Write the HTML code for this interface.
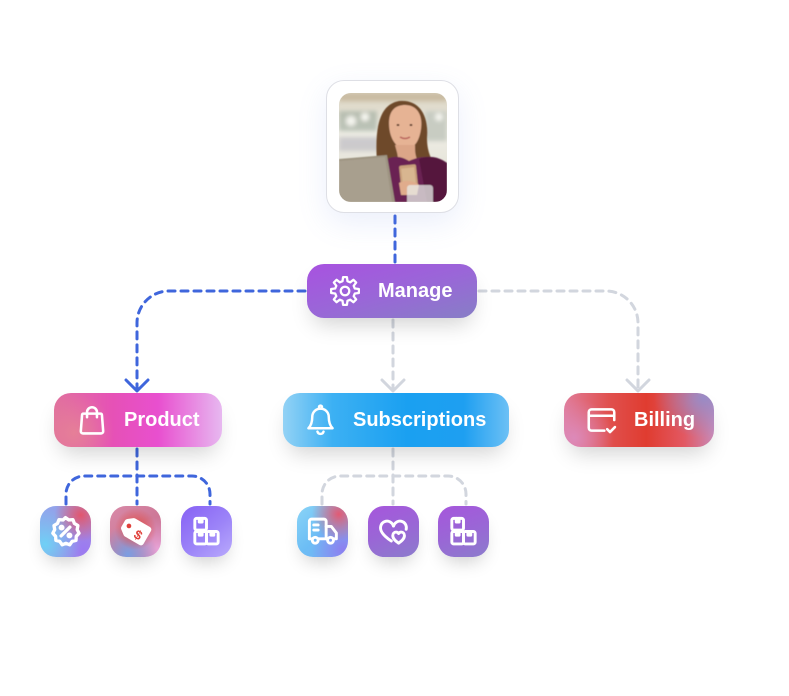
<!DOCTYPE html>
<html><head><meta charset="utf-8">
<style>
html,body{margin:0;padding:0;background:#fff;}
body{width:789px;height:696px;position:relative;overflow:hidden;font-family:"Liberation Sans",sans-serif;}
.abs{position:absolute;}
.node{position:absolute;height:54px;border-radius:17px;box-shadow:0 12px 22px -6px rgba(0,0,0,0.18);}
.lbl{position:absolute;color:#fff;font-weight:700;font-size:20px;line-height:54px;white-space:nowrap;}
.ib{position:absolute;width:51px;height:51px;border-radius:16px;box-shadow:0 10px 18px -6px rgba(0,0,0,0.2);top:506px;}
.ib svg{position:absolute;left:8px;top:8px;width:35px;height:35px;}
</style></head><body>

<!-- connectors -->
<svg class="abs" style="left:0;top:0" width="789" height="696" viewBox="0 0 789 696">
<g fill="none" stroke-width="3" stroke-linecap="round" stroke-dasharray="7 6">
  <path d="M395 216 V263" stroke="#3f66dc"/>
  <path d="M305 291 H169 A32 32 0 0 0 137 323 V388" stroke="#3f66dc"/>
  <path d="M393 320 V388" stroke="#d2d6de"/>
  <path d="M479 291 H606 A32 32 0 0 1 638 323 V388" stroke="#d2d6de"/>
  <path d="M137 449 V504" stroke="#3f66dc"/>
  <path d="M66 504 V494 A18 18 0 0 1 84 476 H192 A18 18 0 0 1 210 494 V504" stroke="#3f66dc"/>
  <path d="M393 449 V504" stroke="#d2d6de"/>
  <path d="M322 504 V494 A18 18 0 0 1 340 476 H448 A18 18 0 0 1 466 494 V504" stroke="#d2d6de"/>
</g>
<g fill="none" stroke-width="3" stroke-linecap="round" stroke-linejoin="round">
  <path d="M126 380 L137 391 L148 380" stroke="#3f66dc"/>
  <path d="M382 380 L393 391 L404 380" stroke="#d2d6de"/>
  <path d="M627 380 L638 391 L649 380" stroke="#d2d6de"/>
</g>
</svg>

<!-- photo card -->
<div class="abs" style="left:326px;top:80px;width:131px;height:131px;border:1.5px solid #dedfe5;border-radius:18px;background:#fff;box-shadow:0 10px 30px rgba(110,140,230,0.14);"></div>
<svg class="abs" style="left:339px;top:93px;" width="108" height="109" viewBox="0 0 108 109">
<defs>
<clipPath id="pc"><rect x="0" y="0" width="108" height="109" rx="12"/></clipPath>
<linearGradient id="bgp" x1="0" y1="0" x2="0" y2="1"><stop offset="0" stop-color="#d9d2c0"/><stop offset="0.35" stop-color="#eeede4"/><stop offset="0.7" stop-color="#e6e4da"/><stop offset="1" stop-color="#cfc9bb"/></linearGradient>
<filter id="bl"><feGaussianBlur stdDeviation="2"/></filter>
<filter id="bl1"><feGaussianBlur stdDeviation="0.6"/></filter>
</defs>
<g clip-path="url(#pc)">
<rect width="108" height="109" fill="url(#bgp)"/>
<g filter="url(#bl)">
<rect x="0" y="0" width="108" height="8" fill="#c9bca2"/>
<rect x="0" y="18" width="38" height="20" fill="#9aa69a" opacity="0.6"/>
<circle cx="12" cy="28" r="5" fill="#f4f4ee"/>
<circle cx="26" cy="24" r="4" fill="#f8f8f2"/>
<rect x="0" y="44" width="40" height="14" fill="#b8b6c0" opacity="0.6"/>
<rect x="86" y="18" width="22" height="30" fill="#c8ccc2"/>
<circle cx="100" cy="24" r="4" fill="#f4f4ee"/>
</g>
<g filter="url(#bl1)">
<path d="M38 70 C36 40 38 12 60 8 C80 6 90 22 88 45 C88 58 92 66 96 72 L60 80 Z" fill="#6e4a2c"/>
<path d="M50 30 C50 16 58 12 66 12 C78 12 84 22 82 36 C80 50 74 56 66 56 C58 56 50 46 50 30 Z" fill="#e6b394"/>
<path d="M56 52 C58 60 60 64 58 70 L80 70 C76 64 76 58 76 52 Z" fill="#dca688"/>
<path d="M48 66 C56 62 64 64 70 68 C78 64 90 62 100 66 L108 70 L108 109 L48 109 Z" fill="#6a2452"/>
<path d="M80 66 C90 62 100 64 108 70 L108 109 L88 109 Z" fill="#55183e"/>
<path d="M0 66 L48 62 L56 109 L0 109 Z" fill="#9e9482"/>
<path d="M0 68 L46 64 L53 109 L0 109 Z" fill="#a89f8e"/>
<rect x="61" y="72" width="17" height="22" rx="2" fill="#c9a07c" transform="rotate(-6 69 83)"/>
<rect x="63" y="75" width="13" height="16" fill="#d8b690" transform="rotate(-6 69 83)"/>
<path d="M60 90 C66 86 76 88 80 92 L78 102 L62 102 Z" fill="#e0ac8c"/>
<rect x="68" y="92" width="26" height="20" rx="3" fill="#e8ece8" opacity="0.75"/>
<ellipse cx="59" cy="32" rx="1.4" ry="1" fill="#5a3826"/>
<ellipse cx="72" cy="32" rx="1.4" ry="1" fill="#5a3826"/>
<path d="M61 44 Q66 47 71 44" stroke="#b8605a" stroke-width="1.6" fill="none"/>
</g>
</g>
</svg>

<!-- Manage -->
<div class="node" style="left:307px;top:264px;width:170px;background:linear-gradient(165deg,#a852e0 0%,#9a66d8 50%,#877ec6 100%);"></div>
<svg class="abs" style="left:329px;top:275px" width="32" height="32" viewBox="0 0 24 24" fill="none" stroke="#fff" stroke-width="1.7" stroke-linecap="round" stroke-linejoin="round"><polygon points="19.37,10.16 22.4,10.54 22.4,13.46 19.37,13.84 18.51,15.91 20.39,18.32 18.32,20.39 15.91,18.51 13.84,19.37 13.46,22.4 10.54,22.4 10.16,19.37 8.09,18.51 5.68,20.39 3.61,18.32 5.49,15.91 4.63,13.84 1.6,13.46 1.6,10.54 4.63,10.16 5.49,8.09 3.61,5.68 5.68,3.61 8.09,5.49 10.16,4.63 10.54,1.6 13.46,1.6 13.84,4.63 15.91,5.49 18.32,3.61 20.39,5.68 18.51,8.09"/><circle cx="12" cy="12" r="3.2"/></svg>
<div class="lbl" style="left:378px;top:264px;">Manage</div>

<!-- Product -->
<div class="node" style="left:54px;top:393px;width:168px;background:radial-gradient(ellipse 40px 40px at 20px 40px,rgba(230,130,150,0.9),rgba(230,130,150,0) 100%),linear-gradient(90deg,#e0709e 0%,#e651b6 35%,#e84fcf 62%,#e7b8f0 100%);"></div>
<svg class="abs" style="left:75px;top:403px" width="34" height="34" viewBox="0 0 24 24" fill="none" stroke="#fff" stroke-width="1.8" stroke-linecap="round" stroke-linejoin="round"><path d="M6 7.5h12a1 1 0 0 1 1 .9l.9 11.5a1.5 1.5 0 0 1-1.5 1.6H5.6a1.5 1.5 0 0 1-1.5-1.6L5 8.4a1 1 0 0 1 1-.9z"/><path d="M8.5 10V6.5a3.5 3.5 0 0 1 7 0V10"/></svg>
<div class="lbl" style="left:124px;top:393px;">Product</div>

<!-- Subscriptions -->
<div class="node" style="left:283px;top:393px;width:226px;background:linear-gradient(90deg,#93d2f5 0%,#3cb0f3 22%,#1aa0f1 55%,#1e9ff1 80%,#6cc0f5 100%);"></div>
<svg class="abs" style="left:304px;top:403px" width="33" height="34" viewBox="0 0 24 24" fill="none" stroke="#fff" stroke-width="1.8" stroke-linecap="round" stroke-linejoin="round"><circle cx="12" cy="2.6" r="1.1"/><path d="M12 3.7a6 6 0 0 0-6 6c0 5-1.5 7-2.8 8.3h17.6C19.5 16.7 18 14.7 18 9.7a6 6 0 0 0-6-6z"/><path d="M9.8 20.5a2.3 2.3 0 0 0 4.4 0"/></svg>
<div class="lbl" style="left:353px;top:393px;">Subscriptions</div>

<!-- Billing -->
<div class="node" style="left:564px;top:393px;width:150px;background:radial-gradient(ellipse 50px 40px at 140px 5px,rgba(150,140,200,0.95),rgba(150,140,200,0) 100%),radial-gradient(ellipse 40px 40px at 10px 45px,rgba(220,140,190,0.9),rgba(220,140,190,0) 100%),linear-gradient(90deg,#e07c9a 0%,#e0504e 30%,#e03c30 55%,#e25862 80%,#c88ab8 100%);"></div>
<svg class="abs" style="left:584px;top:403px" width="35" height="34" viewBox="0 0 24 24" fill="none" stroke="#fff" stroke-width="1.8" stroke-linecap="round" stroke-linejoin="round"><path d="M21 12V6.5A2 2 0 0 0 19 4.5H5a2 2 0 0 0-2 2v11a2 2 0 0 0 2 2h9"/><path d="M3 9h18"/><path d="M16 18.5l2 2 3.5-3.5"/></svg>
<div class="lbl" style="left:634px;top:393px;">Billing</div>

<!-- Product children -->
<div class="ib" style="left:40px;background:radial-gradient(circle at 80% 18%,#e2566e 0%,rgba(226,86,110,0) 45%),radial-gradient(circle at 10% 75%,#6fd0f6 0%,rgba(111,208,246,0) 60%),radial-gradient(circle at 85% 85%,#9b7af2 0%,rgba(155,122,242,0) 55%),linear-gradient(135deg,#8ea8ee,#a98ad8);">
<svg viewBox="0 0 24 24" fill="none" stroke="#fff" stroke-width="2.3" stroke-linecap="round" stroke-linejoin="round"><path d="M12 2.5l2.3 1.6 2.8-.2 1 2.6 2.4 1.4-.5 2.8 1.3 2.5-1.9 2.1-.2 2.8-2.7.7-1.6 2.3-2.6-1-2.6 1-1.6-2.3-2.7-.7-.2-2.8-1.9-2.1 1.3-2.5-.5-2.8 2.4-1.4 1-2.6 2.8.2z"/><path d="M9 15l6-6"/><circle cx="9.3" cy="9.3" r="0.9" fill="#fff"/><circle cx="14.7" cy="14.7" r="0.9" fill="#fff"/></svg></div>

<div class="ib" style="left:110px;background:radial-gradient(circle at 50% 45%,#e24a40 0%,rgba(226,74,64,0) 55%),radial-gradient(circle at 35% 95%,#7a9ee2 0%,rgba(122,158,226,0) 50%),radial-gradient(circle at 95% 85%,#e8a4d8 0%,rgba(232,164,216,0) 50%),linear-gradient(135deg,#d88aa8,#c56a8a);">
<svg viewBox="0 0 24 24"><g transform="rotate(30 12 12)"><path d="M3 9.5a2 2 0 0 1 .8-1.6l3.4-2.6a2 2 0 0 1 1.2-.4H20a2 2 0 0 1 2 2v10.2a2 2 0 0 1-2 2H8.4a2 2 0 0 1-1.2-.4l-3.4-2.6A2 2 0 0 1 3 14.5z" fill="#fff" transform="translate(-1 -0.5)"/></g><circle cx="7.5" cy="8.2" r="1.6" fill="#e0403a"/><text x="14" y="17.5" font-family="Liberation Sans,sans-serif" font-weight="700" font-size="9" fill="#e0403a" text-anchor="middle" transform="rotate(30 14 14)">$</text></svg></div>

<div class="ib" style="left:181px;background:linear-gradient(140deg,#8660f4 0%,#9c84f8 55%,#b9aafc 100%);">
<svg viewBox="0 0 24 24" fill="none" stroke="#fff" stroke-width="2" stroke-linecap="round" stroke-linejoin="round"><rect x="4" y="3" width="8" height="8" rx="1.2"/><rect x="4" y="12" width="8" height="8.5" rx="1.2"/><rect x="12" y="12" width="8" height="8.5" rx="1.2"/><path d="M7 3v2.5h2V3M7 12v2.5h2V12M15 12v2.5h2V12"/></svg></div>

<!-- Subscription children -->
<div class="ib" style="left:297px;background:radial-gradient(circle at 82% 16%,#e25a74 0%,rgba(226,90,116,0) 45%),radial-gradient(circle at 90% 85%,#8c80f0 0%,rgba(140,128,240,0) 50%),linear-gradient(135deg,#8ad4f6 0%,#6cbdf5 50%,#7aaaf2 100%);">
<svg viewBox="0 0 24 24" fill="none" stroke="#fff" stroke-width="2" stroke-linecap="round" stroke-linejoin="round"><path d="M3 17V5a1.5 1.5 0 0 1 1.5-1.5H13a1.5 1.5 0 0 1 1.5 1.5V17"/><path d="M14.5 8.5h3.5l3.5 4.5V17h-1.5"/><path d="M3 17h2"/><path d="M9 17h6.5"/><circle cx="7" cy="18" r="2"/><circle cx="17.5" cy="18" r="2"/><path d="M6 7.5h3M6 11h3"/></svg></div>

<div class="ib" style="left:368px;background:linear-gradient(160deg,#a656dc 0%,#9a66d6 50%,#8c7ccc 100%);">
<svg viewBox="0 0 24 24" fill="none" stroke="#fff" stroke-width="2" stroke-linecap="round" stroke-linejoin="round"><path d="M12 8.2C11 5.5 8.5 4.5 6.5 5 3.5 5.8 2.5 9 3.5 11.5c1 2.5 4.5 5.5 7 7"/><path d="M12 8.2c1-2.7 3.5-3.7 5.5-3.2 2.6.7 3.7 3.3 3.2 5.5"/><path d="M15.5 20c-2-1.5-4-3-4-5.2 0-1.4 1-2.4 2.2-2.4.8 0 1.4.4 1.8 1 .4-.6 1-1 1.8-1 1.2 0 2.2 1 2.2 2.4 0 2.2-2 3.7-4 5.2z"/></svg></div>

<div class="ib" style="left:438px;background:linear-gradient(160deg,#a656dc 0%,#9a66d6 50%,#8c7ccc 100%);">
<svg viewBox="0 0 24 24" fill="none" stroke="#fff" stroke-width="2" stroke-linecap="round" stroke-linejoin="round"><rect x="4" y="3" width="8" height="8" rx="1.2"/><rect x="4" y="12" width="8" height="8.5" rx="1.2"/><rect x="12" y="12" width="8" height="8.5" rx="1.2"/><path d="M7 3v2.5h2V3M7 12v2.5h2V12M15 12v2.5h2V12"/></svg></div>

</body></html>
